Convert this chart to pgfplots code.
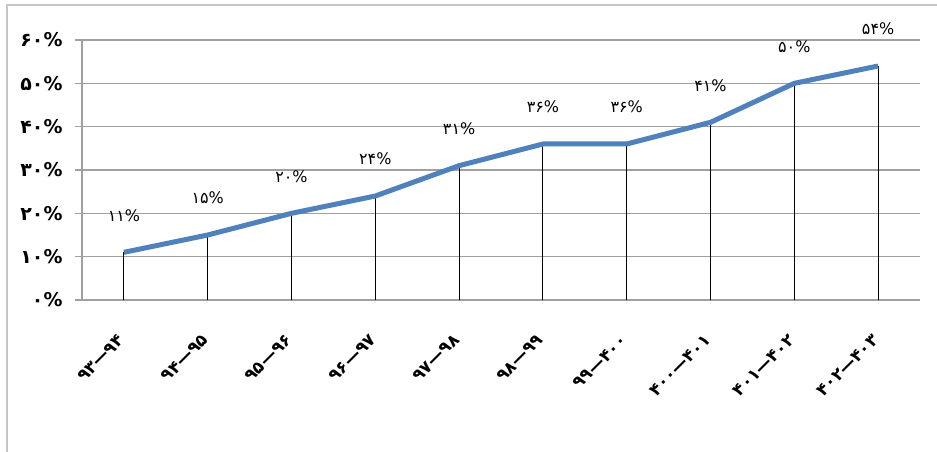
\documentclass[border=0pt]{standalone}
\usepackage{pgfplots}
\pgfplotsset{compat=1.18}
\usepackage{fontspec}
\newfontfamily\fa{DejaVu Sans}
\definecolor{lineblue}{RGB}{79,129,189}
\definecolor{gridgray}{RGB}{160,160,160}
\begin{document}
\begin{tikzpicture}
\useasboundingbox (0,0) rectangle (937bp,452bp);
\fill[white] (0,0) rectangle (937bp,452bp);
\draw[gray!45, line width=1.2bp] (7bp,0) -- (7bp,447bp) -- (937bp,447bp);
\begin{axis}[
  at={(82bp,152bp)}, anchor=south west,
  scale only axis, width=838bp, height=260bp,
  xmin=-0.5, xmax=9.5, ymin=0, ymax=60,
  ytick={0,10,20,30,40,50,60},
  yticklabels={۰\%,۱۰\%,۲۰\%,۳۰\%,۴۰\%,۵۰\%,۶۰\%},
  xtick={0,1,2,3,4,5,6,7,8,9},
  xticklabels={۹۳—۹۴,۹۴—۹۵,۹۵—۹۶,۹۶—۹۷,۹۷—۹۸,۹۸—۹۹,۹۹—۴۰۰,۴۰۰—۴۰۱,۴۰۱—۴۰۲,۴۰۲—۴۰۳},
  axis x line*=bottom, axis y line*=left,
  axis line style={gridgray, line width=1.2bp, -},
  ymajorgrids, grid style={gridgray, line width=1.2bp},
  ytick style={gridgray, line width=1.2bp},
  major tick length=7bp, tick align=outside,
  xtick style={draw=none},
  yticklabel style={font=\fontsize{19}{21}\selectfont\fa\bfseries, text=black, xshift=-9bp},
  xticklabel style={font=\fontsize{17}{19}\selectfont\fa\bfseries, text=black, rotate=45, anchor=east},
  xticklabel shift=28bp,
  clip=false,
]
\addplot[black, line width=1bp, ycomb, forget plot] coordinates {
  (0,11) (1,15) (2,20) (3,24) (4,31) (5,36) (6,36) (7,41) (8,50) (9,54)};
\addplot[lineblue, line width=5bp, line join=round,
  point meta=explicit symbolic,
  nodes near coords={\fontsize{16}{18}\selectfont\fa\pgfplotspointmeta\%},
  every node near coord/.append style={anchor=center, yshift=37bp, text=black}]
  coordinates {
  (0,11)[۱۱] (1,15)[۱۵] (2,20)[۲۰] (3,24)[۲۴] (4,31)[۳۱]
  (5,36)[۳۶] (6,36)[۳۶] (7,41)[۴۱] (8,50)[۵۰] (9,54)[۵۴]};
\end{axis}
\end{tikzpicture}
\end{document}
